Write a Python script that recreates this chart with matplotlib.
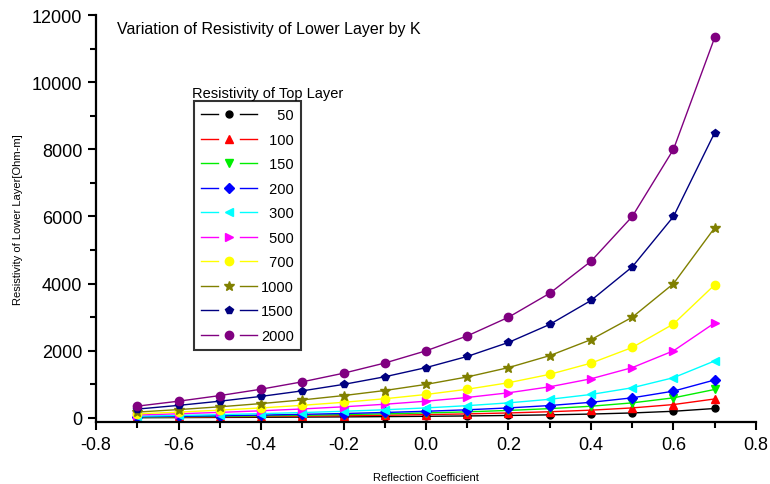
import numpy as np
import matplotlib.pyplot as plt
from matplotlib.ticker import MultipleLocator
from matplotlib.legend_handler import HandlerBase
from matplotlib.lines import Line2D

plt.rcParams['font.family'] = ['Liberation Sans', 'DejaVu Sans']

# reflection coefficient K
k = [-0.7, -0.6, -0.5, -0.4, -0.3, -0.2, -0.1, 0.0, 0.1, 0.2, 0.3, 0.4, 0.5, 0.6, 0.7]

# resistivity of lower layer for each top layer resistivity
rho_50 = [9, 12.5, 17, 21, 27, 33, 41, 50, 61, 75, 93, 117, 150, 200, 283]
rho_100 = [18, 25, 33, 43, 54, 67, 82, 100, 122, 150, 186, 233, 300, 400, 567]
rho_150 = [26, 38, 50, 64, 81, 100, 123, 150, 183, 225, 279, 350, 450, 600, 850]
rho_200 = [35, 50, 67, 86, 108, 133, 164, 200, 244, 300, 371, 467, 600, 800, 1133]
rho_300 = [53, 75, 100, 129, 162, 200, 245, 300, 367, 450, 557, 700, 900, 1200, 1700]
rho_500 = [88, 125, 167, 214, 269, 333, 409, 500, 611, 750, 929, 1167, 1500, 2000, 2833]
rho_700 = [124, 175, 233, 300, 377, 467, 573, 700, 856, 1050, 1300, 1633, 2100, 2800, 3967]
rho_1000 = [176, 250, 333, 429, 538, 667, 818, 1000, 1222, 1500, 1857, 2333, 3000, 4000, 5667]
rho_1500 = [265, 375, 500, 643, 808, 1000, 1227, 1500, 1833, 2250, 2786, 3500, 4500, 6000, 8500]
rho_2000 = [353, 500, 667, 857, 1077, 1333, 1636, 2000, 2444, 3000, 3714, 4667, 6000, 8000, 11333]

labels = ['50', '100', '150', '200', '300', '500', '700', '1000', '1500', '2000']
series = [rho_50, rho_100, rho_150, rho_200, rho_300, rho_500, rho_700, rho_1000, rho_1500, rho_2000]
colors = ['black', 'red', '#00ee00', 'blue', 'cyan', 'magenta', 'yellow', '#808000', '#000080', '#800080']
markers = ['o', '^', 'v', 'D', '<', '>', 'o', '*', 'p', 'o']
msizes = [5, 6, 6, 5, 6, 6, 6, 7, 6, 6]


# legend key: line - marker - line, with gaps around the marker
class GapHandler(HandlerBase):
    def create_artists(self, legend, orig_handle, xdescent, ydescent,
                       width, height, fontsize, trans):
        y = height / 2 - ydescent
        x0 = -xdescent
        x1 = x0 + width
        xm = (x0 + x1) / 2
        gap = 0.2 * width
        c = orig_handle.get_color()
        lw = orig_handle.get_linewidth()
        left = Line2D([x0, xm - gap], [y, y], color=c, lw=lw)
        right = Line2D([xm + gap, x1], [y, y], color=c, lw=lw)
        mark = Line2D([xm], [y], ls='none', marker=orig_handle.get_marker(),
                      markersize=orig_handle.get_markersize(), color=c)
        for a in (left, right, mark):
            a.set_transform(trans)
        return [left, right, mark]


fig = plt.figure(figsize=(7.7, 4.85), dpi=100)
ax = fig.add_axes([0.1247, 0.1278, 0.8571, 0.8392])

for vals, lab, c, m, ms in zip(series, labels, colors, markers, msizes):
    # figure spaces push the numbers to the right edge
    ax.plot(k, vals, color=c, marker=m, markersize=ms, linewidth=1.0,
            label='\u2007' * (4 - len(lab)) + lab)

ax.set_xlim(-0.8, 0.8)
ax.set_ylim(-120, 12000)
ax.xaxis.set_major_locator(MultipleLocator(0.2))
ax.xaxis.set_minor_locator(MultipleLocator(0.1))
ax.yaxis.set_major_locator(MultipleLocator(2000))
ax.yaxis.set_minor_locator(MultipleLocator(1000))
ax.xaxis.set_major_formatter(plt.FuncFormatter(lambda v, p: '%.1f' % v))

for side in ['top', 'right']:
    ax.spines[side].set_visible(False)
for side in ['left', 'bottom']:
    ax.spines[side].set_linewidth(1.6)
ax.tick_params(which='major', direction='out', length=6, width=1.5, labelsize=13, pad=4)
ax.tick_params(which='minor', direction='out', length=4, width=1.5)

ax.set_xlabel('Reflection Coefficient', fontsize=8, labelpad=14)
ax.set_ylabel('Resistivity of Lower Layer[Ohm-m]', fontsize=8, labelpad=6)

ax.text(0.032, 0.966, 'Variation of Resistivity of Lower Layer by K', transform=ax.transAxes,
        fontsize=11.5, va='center', ha='left')

leg = ax.legend(loc='upper left', bbox_to_anchor=(0.1485, 0.789), fontsize=10.5,
                handlelength=3.8, labelspacing=0.72, numpoints=1, frameon=True,
                fancybox=False, borderpad=0.5, handletextpad=0.3, borderaxespad=0,
                handler_map={Line2D: GapHandler()})
leg.get_frame().set_edgecolor('black')
leg.get_frame().set_linewidth(1.5)
ax.text(0.146, 0.808, 'Resistivity of Top Layer', transform=ax.transAxes,
        fontsize=10.5, va='center', ha='left')

fig.savefig('out.png', dpi=100)
